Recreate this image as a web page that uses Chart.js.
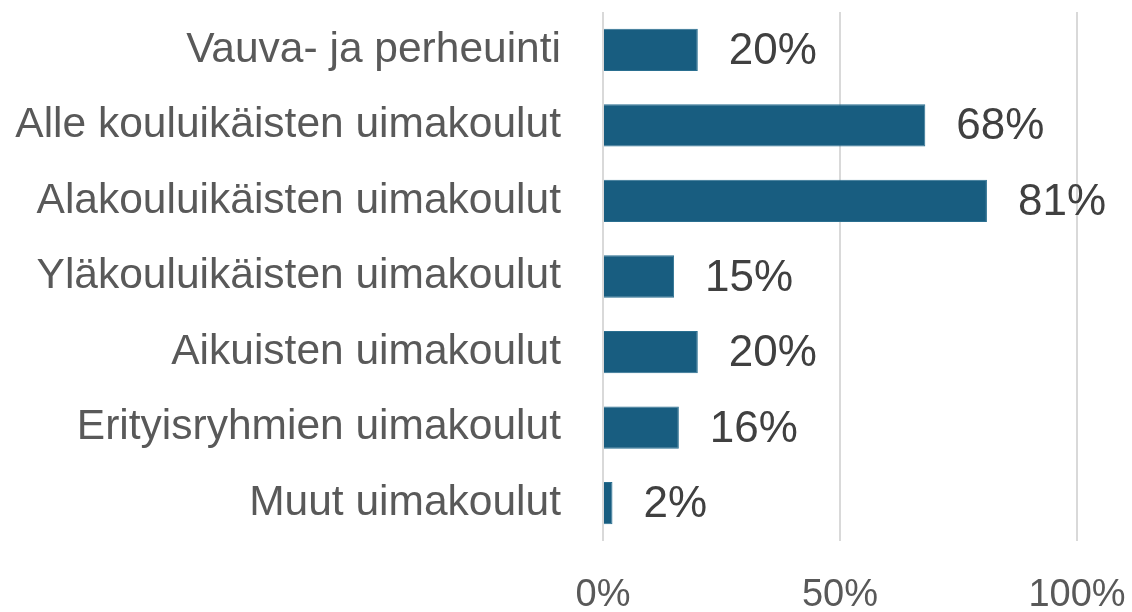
<!DOCTYPE html>
<html>
<head>
<meta charset="utf-8">
<script src="https://cdn.jsdelivr.net/npm/chart.js@4"></script>
<style>
  html, body { margin: 0; padding: 0; background: #fff; }
  #wrap { width: 1132px; height: 612px; }
</style>
</head>
<body>
<div id="wrap"><canvas id="uinti"></canvas></div>
<script>
const kategoriat = [
  "Vauva- ja perheuinti",
  "Alle kouluikäisten uimakoulut",
  "Alakouluikäisten uimakoulut",
  "Yläkouluikäisten uimakoulut",
  "Aikuisten uimakoulut",
  "Erityisryhmien uimakoulut",
  "Muut uimakoulut"
];
const osuudet = [20, 68, 81, 15, 20, 16, 2];
const xTicks = [0, 50, 100];

const fontti = "'Liberation Sans', Arial, sans-serif";

// arvot palkkien perään
const arvoLabelit = {
  id: 'arvoLabelit',
  afterDatasetsDraw(chart) {
    const ctx = chart.ctx;
    const meta = chart.getDatasetMeta(0);
    ctx.save();
    ctx.font = '44px ' + fontti;
    ctx.fillStyle = '#404040';
    ctx.textAlign = 'left';
    ctx.textBaseline = 'middle';
    meta.data.forEach((bar, i) => {
      ctx.fillText(osuudet[i] + '%', bar.x + 31, bar.y + 2);
    });
    ctx.restore();
  }
};

new Chart(document.getElementById("uinti"), {
  type: 'bar',
  data: {
    labels: kategoriat,
    datasets: [{
      data: osuudet,
      backgroundColor: '#185d80',
      borderColor: '#2a6f90',
      borderWidth: 1,
      barPercentage: 0.56,
      categoryPercentage: 1
    }]
  },
  options: {
    indexAxis: 'y',
    responsive: true,
    maintainAspectRatio: false,
    animation: false,
    layout: { padding: { top: 12, right: 55, bottom: 0, left: 0 } },
    plugins: {
      legend: { display: false },
      tooltip: { enabled: false }
    },
    scales: {
      x: {
        min: 0,
        max: 100,
        afterBuildTicks(scale) {
          scale.ticks = xTicks.map(v => ({ value: v }));
        },
        afterFit(scale) {
          scale.height = 71;
          scale.paddingLeft = 0;
          scale.paddingRight = 0;
        },
        grid: { color: '#d9d9d9', lineWidth: 2, drawTicks: false },
        border: { display: false },
        ticks: {
          padding: 36,
          color: '#595959',
          font: { family: fontti, size: 38, lineHeight: 1 },
          callback: v => v + '%'
        }
      },
      y: {
        afterFit(scale) {
          scale.width = 603;
          scale.paddingTop = 0;
          scale.paddingBottom = 0;
        },
        grid: { display: false, drawTicks: false },
        border: { display: false },
        ticks: {
          padding: 42,
          color: '#595959',
          font: { family: fontti, size: 42.5 }
        }
      }
    }
  },
  plugins: [arvoLabelit]
});
</script>
</body>
</html>
